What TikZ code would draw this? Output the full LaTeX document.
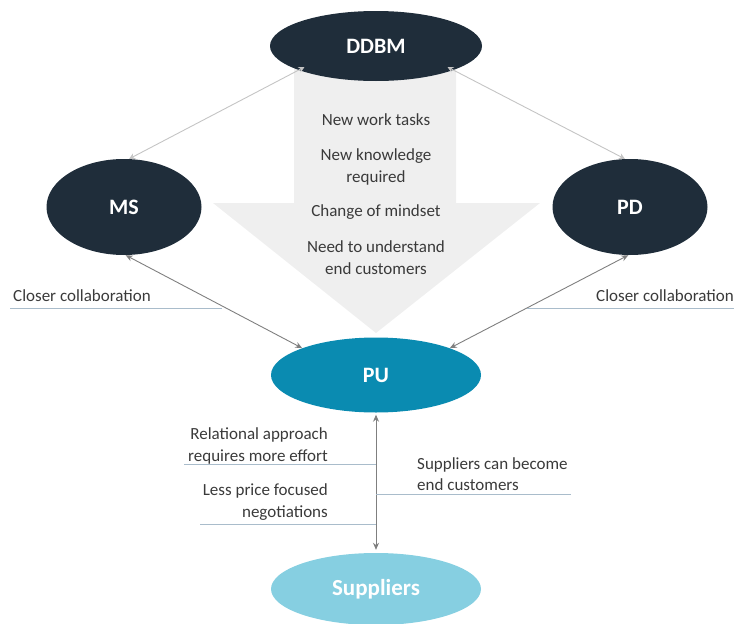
\documentclass[tikz,border=0pt]{standalone}
\usepackage{fontspec}
\setmainfont{Carlito}
\usetikzlibrary{shapes.geometric,arrows.meta}
\definecolor{navy}{HTML}{1F2D3A}
\definecolor{puc}{HTML}{0A8BB1}
\definecolor{supc}{HTML}{86CFE1}
\definecolor{arrowfill}{HTML}{EFEFEF}
\definecolor{txt}{HTML}{3A3A3A}
\definecolor{lightcon}{HTML}{C4C4C4}
\definecolor{darkcon}{HTML}{7F7F7F}
\definecolor{ulc}{HTML}{A9BCCB}
\tikzset{
  ell/.style={ellipse, inner sep=0pt, text=white, font=\fontsize{22}{26}\selectfont\bfseries},
  lcon/.style={draw=lightcon, line width=0.9pt, {Stealth[length=6pt,width=6pt]}-{Stealth[length=6pt,width=6pt]}},
  dcon/.style={draw=darkcon, line width=0.9pt, {Stealth[length=7pt,width=6pt]}-{Stealth[length=7pt,width=6pt]}},
  ul/.style={draw=ulc, line width=0.9pt},
  lbl/.style={text=txt, font=\fontsize{17}{21.5}\selectfont, inner sep=0pt},
  inarrow/.style={text=txt, font=\fontsize{17}{22}\selectfont, align=center, inner sep=0pt}
}
\begin{document}
\begin{tikzpicture}[x=1pt,y=-1pt]
\useasboundingbox (0,0) rectangle (734,624);
% big arrow
\fill[arrowfill] (294,60) -- (456,60) -- (456,203) -- (540,203) -- (376,333) -- (213,203) -- (294,203) -- cycle;
% nodes
\node[ell, fill=navy, minimum width=212pt, minimum height=70pt] (ddbm) at (376,46) {DDBM};
\node[ell, fill=navy, minimum width=155pt, minimum height=96pt] (ms) at (124,207) {MS};
\node[ell, fill=navy, minimum width=155pt, minimum height=96pt] (pd) at (630,207) {PD};
\node[ell, fill=puc, minimum width=210pt, minimum height=75pt] (pu) at (376,375) {PU};
\node[ell, fill=supc, minimum width=210pt, minimum height=72pt, font=\fontsize{23}{26}\selectfont\bfseries] (sup) at (376,589) {Suppliers};
% arrow texts
\node[inarrow] (t1) at (376,120) {New work tasks};
\node[inarrow] (t2) at (376,167) {New knowledge\\required};
\node[inarrow] (t3) at (376,212) {Change of mindset};
\node[inarrow] (t4) at (376,258) {Need to understand\\end customers};
% connectors
\draw[lcon] ([shift={(0,-5)}]ddbm.200) -- (ms.84);
\draw[lcon] ([shift={(0,-5)}]ddbm.-20) -- (pd.96);
\draw[dcon] (ms.-88) -- (pu.160);
\draw[dcon] (pd.-92) -- (pu.20);
\draw[dcon] ([yshift=-2pt]pu.south) -- ([yshift=3pt]sup.north);
% underlined labels
\node[lbl, anchor=west] (c1) at (13,296) {Closer collaboration};
\coordinate (c1a) at (10,308); \coordinate (c1b) at (222,308);
\draw[ul] (c1a) -- (c1b);
\node[lbl, anchor=east] (c2) at (734,296) {Closer collaboration};
\coordinate (c2a) at (527,308); \coordinate (c2b) at (734,308);
\draw[ul] (c2a) -- (c2b);
\node[lbl, anchor=east, align=right] (r1) at (328,446) {Relational approach\\requires more effort};
\coordinate (r1a) at (184,464); \coordinate (r1b) at (376,464);
\draw[ul] (r1a) -- (r1b);
\node[lbl, anchor=east, align=right] (r2) at (328,502) {Less price focused\\negotiations};
\coordinate (r2a) at (200,524); \coordinate (r2b) at (376,524);
\draw[ul] (r2a) -- (r2b);
\node[lbl, anchor=west, align=left] (s1) at (417,474) {Suppliers can become\\end customers};
\coordinate (s1a) at (376,494); \coordinate (s1b) at (571,494);
\draw[ul] (s1a) -- (s1b);
\end{tikzpicture}
\end{document}
